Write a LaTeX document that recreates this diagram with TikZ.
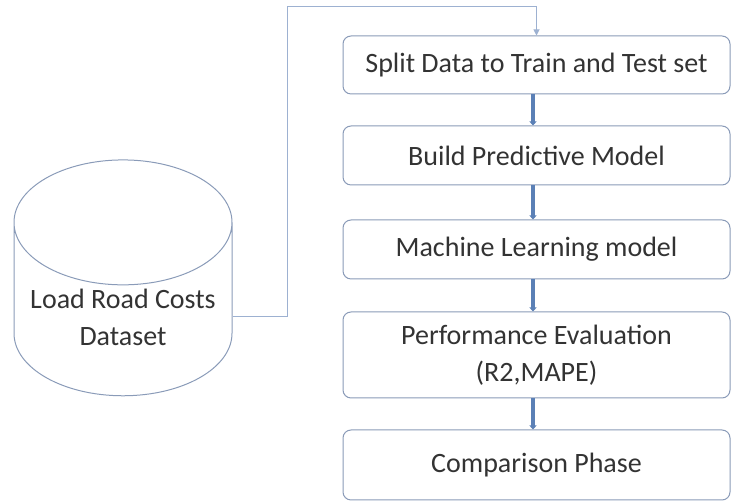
\documentclass[tikz,border=0pt]{standalone}
\usepackage{fontspec}
\setmainfont{Carlito}
\usetikzlibrary{shapes.geometric,arrows.meta,positioning}
\definecolor{boxline}{HTML}{8A9BB8}
\definecolor{flowblue}{HTML}{5B80B6}
\definecolor{linkblue}{HTML}{9DB1D1}
\definecolor{textgrey}{HTML}{333333}
\tikzset
{
    stepbox/.style  = {rectangle, rounded corners=8pt, draw=boxline, line width=1pt, fill=white, align=center, text=textgrey, minimum width=387pt, font=\fontsize{28}{37}\selectfont},
    database/.style = {cylinder, shape border rotate=90, aspect=0.65, draw=boxline, line width=1pt, align=center, text=textgrey, minimum width=218pt, minimum height=198pt, font=\fontsize{28}{37}\selectfont},
    flow/.style     = {-{Triangle[length=4pt,width=7pt]}, line width=3.5pt, draw=flowblue},
    link/.style     = {-{Triangle[length=6pt,width=6pt]}, line width=1pt, draw=linkblue}
}

\begin{document}
\begin{tikzpicture}[x=1pt, y=1pt]
\useasboundingbox (0,0) rectangle (731,502);
	\node (split)[stepbox, minimum height=58pt] 		at (536.5,437)   {Split Data to Train and Test set};
\node (build)[stepbox, minimum height=59pt] 		at (536.5,346.5) {Build Predictive Model};
\node (mlmodel)[stepbox, minimum height=59pt] 	at (536.5,252.5) {Machine Learning model};
\node (perf)[stepbox, minimum height=86pt] 		at (536.5,147)   {Performance Evaluation \\ (R2,MAPE)};
\node (compare)[stepbox, minimum height=70pt] 	at (536.5,37)    {Comparison Phase};
\node (db)[database] 									at (123,185)     {Load Road Costs \\ Dataset};
\coordinate (bend) 										at (287,495);

\draw[link] (db.east) -| (bend) -| (split.north);

\draw[flow] ([xshift=-3.5pt]split.south) 	-- ([xshift=-3.5pt]build.north);
\draw[flow] ([xshift=-3.5pt]build.south) 	-- ([xshift=-3.5pt]mlmodel.north);
\draw[flow] ([xshift=-3.5pt]mlmodel.south) -- ([xshift=-3.5pt]perf.north);
\draw[flow] ([xshift=-3.5pt]perf.south) 	-- ([xshift=-3.5pt]compare.north);


	\end{tikzpicture}
\end{document}
